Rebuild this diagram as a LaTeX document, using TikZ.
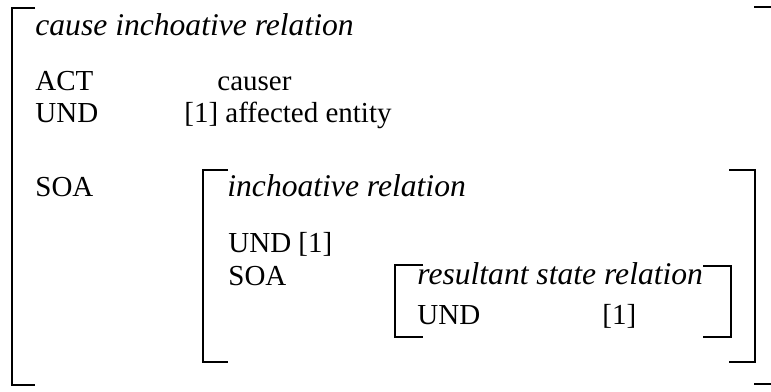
\documentclass[tikz,border=0pt]{standalone}
\usepackage{fontspec}
\setmainfont{Liberation Serif}
\begin{document}
\begin{tikzpicture}[x=0.5pt, y=-0.5pt,
    brk/.style={line width=1.1pt},
    lbl/.style={anchor=base west, inner sep=0pt, font=\fontsize{14.5}{17}\selectfont},
    ttl/.style={lbl, font=\fontsize{15.8}{18}\selectfont\itshape}]
  \clip (0,0) rectangle (771,391);
  % outer brackets
  \draw[brk] (35,8) -- (12,8) -- (12,385) -- (35,385);
  \draw[brk] (754,7) -- (777,7) -- (777,384) -- (754,384);
  % middle brackets
  \draw[brk] (228,170) -- (203,170) -- (203,362) -- (228,362);
  \draw[brk] (729,170) -- (755,170) -- (755,362) -- (729,362);
  % inner brackets
  \draw[brk] (423,265) -- (395,265) -- (395,337) -- (423,337);
  \draw[brk] (703,266) -- (731,266) -- (731,337) -- (703,337);
  % outer content
  \node[ttl] (cir) at (35,35) {cause inchoative relation};
  \node[lbl] (act) at (35,90) {ACT};
  \node[lbl] (causer) at (217,90) {causer};
  \node[lbl] (und) at (35,122) {UND};
  \node[lbl] (affent) at (184,122) {[1] affected entity};
  \node[lbl] (soa) at (35,196) {SOA};
  % middle content
  \node[ttl] (inchrel) at (227,196) {inchoative relation};
  \node[lbl] (undb) at (228,252) {UND [1]};
  \node[lbl] (soab) at (228,285) {SOA};
  % inner content
  \node[ttl] (resrel) at (417,284) {resultant state relation};
  \node[lbl] (undc) at (417,324) {UND};
  \node[lbl] (idx) at (602,324) {[1]};
\end{tikzpicture}
\end{document}
